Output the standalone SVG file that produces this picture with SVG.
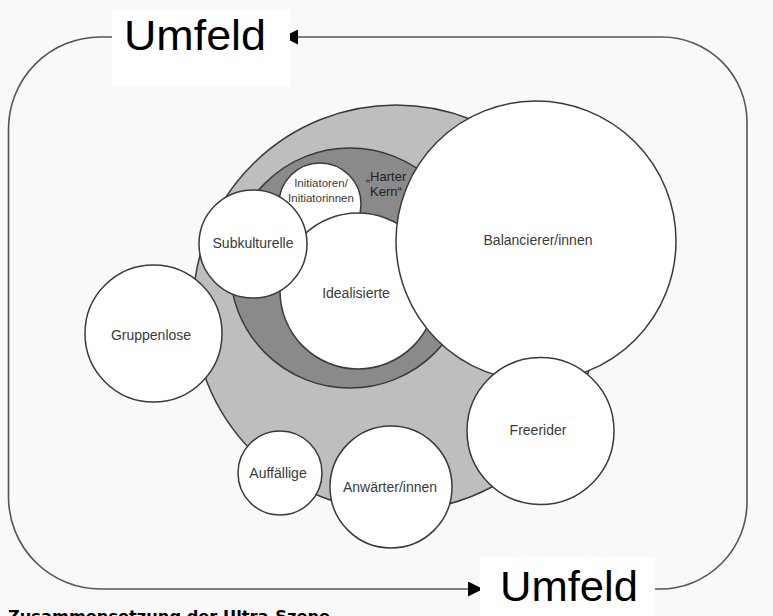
<svg xmlns="http://www.w3.org/2000/svg" width="773" height="616" viewBox="0 0 773 616">
<style>
.node{stroke:#3a3a3a;stroke-width:1.5;}
.w{fill:#ffffff;}
.lg{fill:#bebebe;}
.dg{fill:#8a8a8a;}
.lbl{font-family:"Liberation Sans",Arial,sans-serif;fill:#3a3a3a;text-anchor:middle;font-size:14px;}
.um{font-family:"Liberation Sans",Arial,sans-serif;fill:#000;font-size:42px;}
.conn{fill:none;stroke:#555;stroke-width:1.6;}
</style>
<defs>
<marker id="ah" viewBox="0 0 10 10" refX="10" refY="5" markerWidth="16" markerHeight="15" markerUnits="userSpaceOnUse" orient="auto">
<path d="M0,0 L10,5 L0,10 z" fill="#000"/>
</marker>
</defs>
<rect x="0" y="0" width="773" height="616" fill="#f9f9f9"/>
<g id="connectors">
<path class="conn" d="M655,589 L660,589 A87,87 0 0 0 747,502 L747,122 A85,85 0 0 0 662,37 L283,37" marker-end="url(#ah)"/>
<path class="conn" d="M112,37 L100,37 A92,92 0 0 0 8.5,129 L8.5,497 A92,92 0 0 0 100.5,589 L483,589" marker-end="url(#ah)"/>
</g>
<g id="umfeld-top">
<rect x="112" y="10" width="178" height="76" fill="#ffffff"/>
<text class="um" x="124" y="50" textLength="142" lengthAdjust="spacingAndGlyphs">Umfeld</text>
</g>
<g id="umfeld-bottom">
<rect x="480" y="557" width="175" height="59" fill="#ffffff"/>
<text class="um" x="500" y="601" textLength="138" lengthAdjust="spacingAndGlyphs">Umfeld</text>
</g>
<g id="ultra-szene">
<circle class="node lg" cx="396" cy="308" r="203"/>
</g>
<g id="harter-kern">
<circle class="node dg" cx="350" cy="268" r="120"/>
<text class="lbl" style="font-size:13px;fill:#222"><tspan x="386" y="181">„Harter</tspan><tspan x="386" y="196">Kern“</tspan></text>
</g>
<g id="initiatoren">
<circle class="node w" cx="320" cy="204" r="41"/>
<text class="lbl" style="font-size:11.5px"><tspan x="321" y="187">Initiatoren/</tspan><tspan x="321" y="202">Initiatorinnen</tspan></text>
</g>
<g id="idealisierte">
<circle class="node w" cx="358" cy="291" r="78"/>
<text class="lbl" x="356" y="298">Idealisierte</text>
</g>
<g id="subkulturelle">
<circle class="node w" cx="253" cy="244" r="54"/>
<text class="lbl" x="253" y="248">Subkulturelle</text>
</g>
<g id="gruppenlose">
<circle class="node w" cx="153.5" cy="333.5" r="68.5"/>
<text class="lbl" x="151" y="340">Gruppenlose</text>
</g>
<g id="balancierer">
<circle class="node w" cx="536" cy="241" r="140"/>
<text class="lbl" x="538" y="245">Balancierer/innen</text>
</g>
<g id="freerider">
<circle class="node w" cx="540.5" cy="431" r="73.5"/>
<text class="lbl" x="538" y="435">Freerider</text>
</g>
<g id="auffaellige">
<circle class="node w" cx="280" cy="473" r="42"/>
<text class="lbl" x="278" y="478">Auffällige</text>
</g>
<g id="anwaerter">
<circle class="node w" cx="391" cy="487" r="61"/>
<text class="lbl" x="390" y="492">Anwärter/innen</text>
</g>
<text x="8" y="622" font-family="'DejaVu Sans',Verdana,sans-serif" font-weight="bold" font-size="15" fill="#000" textLength="322" lengthAdjust="spacingAndGlyphs">Zusammensetzung der Ultra-Szene</text>
</svg>
